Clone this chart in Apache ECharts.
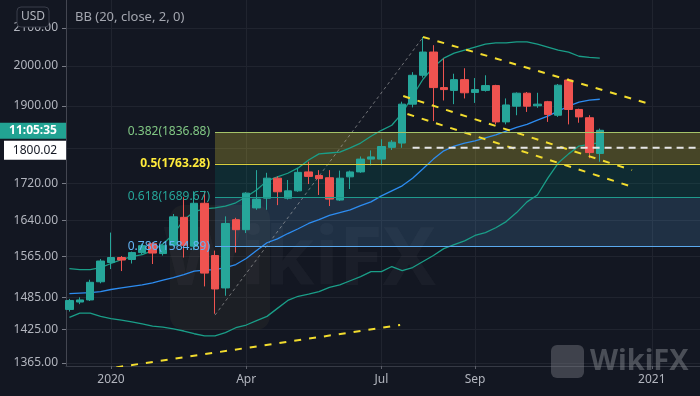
<!DOCTYPE html>
<html><head><meta charset="utf-8">
<script src="https://cdn.jsdelivr.net/npm/echarts@6/dist/echarts.min.js"></script>
<style>html,body{margin:0;padding:0;background:#131722;}#c{width:700px;height:396px;}</style>
</head><body><div id="c"></div><script>
// weekly bars (week start)
const weeks = ['2019-12-09','2019-12-16','2019-12-23','2019-12-30','2020-01-06','2020-01-13','2020-01-20','2020-01-27',
'2020-02-03','2020-02-10','2020-02-17','2020-02-24','2020-03-02','2020-03-09','2020-03-16','2020-03-23','2020-03-30',
'2020-04-06','2020-04-13','2020-04-20','2020-04-27','2020-05-04','2020-05-11','2020-05-18','2020-05-25',
'2020-06-01','2020-06-08','2020-06-15','2020-06-22','2020-06-29','2020-07-06','2020-07-13','2020-07-20','2020-07-27',
'2020-08-03','2020-08-10','2020-08-17','2020-08-24','2020-08-31','2020-09-07','2020-09-14','2020-09-21','2020-09-28',
'2020-10-05','2020-10-12','2020-10-19','2020-10-26','2020-11-02','2020-11-09','2020-11-16','2020-11-23','2020-11-30'];
const opens  = [1462,1476,1480,1515,1553,1563,1559,1573,1591,1571,1588,1646,1586,1676,1567,1503,1641,1620,1666,1687,1731,1687,1703,1745,1737,1732,1683,1734,1745,1774,1774,1801,1811,1904,1976,2036,1945,1938,1965,1933,1938,1950,1861,1899,1931,1900,1910,1877,1964,1891,1871,1787];
const closes = [1479,1480,1514,1556,1563,1558,1573,1587,1572,1588,1647,1588,1676,1532,1501,1633,1620,1698,1685,1731,1701,1703,1744,1735,1730,1685,1731,1745,1774,1779,1803,1813,1904,1976,2036,1945,1940,1965,1932,1940,1950,1861,1902,1931,1899,1904,1879,1951,1891,1873,1789,1841];
const lows   = [1458,1472,1478,1512,1540,1536,1551,1569,1550,1567,1585,1563,1578,1506,1454,1488,1573,1613,1662,1662,1672,1684,1701,1718,1694,1670,1681,1707,1743,1760,1760,1795,1800,1896,1970,1863,1913,1904,1918,1907,1935,1855,1855,1877,1885,1895,1861,1873,1855,1859,1776,1768];
const highs  = [1482,1485,1519,1560,1614,1566,1575,1591,1594,1590,1653,1689,1702,1703,1577,1648,1645,1700,1749,1743,1735,1727,1753,1768,1749,1749,1748,1748,1780,1794,1820,1818,1910,1984,2076,2054,2019,1980,1994,1969,1976,1952,1918,1933,1934,1932,1912,1954,1968,1893,1877,1845];
// Bollinger Bands (20, close, 2)
const bbUpper = [1541,1539,1539,1543,1551,1559,1565,1569,1577,1591,1610,1641,1658,1664,1666,1670,1677,1690,1705,1725,1734,1742,1754,1772,1786,1788,1790,1800,1811,1827,1841,1853,1882,1924,1966,1997,2020,2033,2041,2049,2057,2060,2060,2063,2063,2057,2049,2041,2036,2025,2022,2020];
const bbBasis = [1492,1493,1494,1496,1500,1503,1506,1509,1513,1518,1523,1529,1536,1538,1539,1543,1549,1561,1577,1593,1601,1612,1622,1633,1641,1650,1656,1662,1671,1679,1692,1703,1714,1731,1752,1774,1793,1804,1811,1816,1823,1830,1839,1848,1855,1865,1875,1887,1899,1909,1914,1916];
const bbLower = [1447,1455,1455,1449,1445,1442,1439,1435,1431,1429,1426,1422,1417,1413,1413,1419,1428,1433,1441,1449,1464,1479,1487,1491,1496,1504,1509,1517,1525,1535,1535,1545,1537,1543,1555,1567,1581,1589,1597,1608,1614,1624,1637,1656,1679,1694,1731,1765,1786,1804,1808,1812];
// axes
const xTickIndex  = [4,17,30,39,56];
const xTickLabels = ['2020','Apr','Jul','Sep','2021'];
const yTickValues  = [1365,1425,1485,1565,1640,1720,1800,1900,2000,2100];
const yLabelValues = [1365,1425,1485,1565,1640,1720,1900,2000,2100];
// Fibonacci retracement
const fibLevels = [0.382,0.5,0.618,0.786];
const fibPrices = [1836.88,1763.28,1689.67,1584.89];
const fibLow  = [14,1451.42];
const fibHigh = [34,2075.14];
// drawings
const trendTop   = [[34,2076],[56,1903]];
const trendMid   = [[32.1,1924],[54.1,1749]];
const trendLow   = [[32.5,1880],[54.1,1712]];
const trendRise  = [[4.5,1357],[31.8,1433]];
const lastPrice = 1800.02;
const lastPriceFrom = 33;
const clockText = '11:05:35';

const xMin = -0.327, xMax = 60.635;
const FONT = '"Noto Sans", sans-serif';
const chart = echarts.init(document.getElementById('c'));
const candleData = opens.map((o,i)=>[i,o,closes[i],lows[i],highs[i]]);
const toXY = arr => arr.map((v,i)=>[i,v]);
const fibLabelColors = ['#81c784','#ffeb3b','#26a69a','#64b5f6'];
const fibLineColors  = ['#a5c46a','#d8cc3c','#1f9a8c','#5aa9ee'];
const fibFills = [null,'rgba(255,235,59,0.22)','rgba(0,150,136,0.16)','rgba(100,181,246,0.16)'];

const markLineData = fibLevels.map((lv,k)=>[
  {coord:[fibLow[0],fibPrices[k]], lineStyle:{color:fibLineColors[k],width:1.2,type:'solid'},
   label:{show:true,position:'start',distance:5,formatter:lv+'('+fibPrices[k].toFixed(2)+')',
          color:fibLabelColors[k],fontSize:12,fontFamily:FONT,fontWeight:k===1?'bold':'normal'}},
  {coord:[xMax,fibPrices[k]]}
]);
const markAreaData = [1,2,3].map(k=>[
  {coord:[fibLow[0],fibPrices[k-1]], itemStyle:{color:fibFills[k]}},
  {coord:[xMax,fibPrices[k]]}
]);
const dashYellow = {color:'#f2dc2e',width:2,type:[7,8]};
const seg = (d,style,name)=>({type:'line',name,data:d,symbol:'none',lineStyle:style,z:4,silent:true,clip:true});

chart.setOption({
  animation:false,
  backgroundColor:'#131722',
  textStyle:{fontFamily:FONT},
  grid:{left:66,right:0,top:0,bottom:30},
  xAxis:{type:'value',min:xMin,max:xMax,
    axisLine:{show:true,onZero:false,lineStyle:{color:'#363a45'}},
    axisTick:{show:true,customValues:xTickIndex,length:3,lineStyle:{color:'#5d606b'}},
    axisLabel:{customValues:xTickIndex,formatter:v=>xTickLabels[xTickIndex.indexOf(Math.round(v))],color:'#b2b5be',fontSize:12,margin:8,fontFamily:FONT},
    splitLine:{show:true,lineStyle:{color:'#20242f'}}},
  yAxis:{type:'log',logBase:10,min:1359.4,max:2177,position:'left',
    axisLine:{show:true,onZero:false,lineStyle:{color:'#434651'}},
    axisTick:{show:true,customValues:yTickValues,length:4,lineStyle:{color:'#787b86'}},
    axisLabel:{customValues:yLabelValues,formatter:v=>Number(v).toFixed(2),color:'#b2b5be',fontSize:12,margin:8,fontFamily:FONT},
    splitLine:{show:true,lineStyle:{color:'#20242f'}}},
  series:[
    {type:'line',name:'fib',data:[fibLow,fibHigh],symbol:'none',z:1,silent:true,
     lineStyle:{color:'rgba(190,190,190,0.55)',width:1,type:[3,3]},
     markArea:{silent:true,data:markAreaData},
     markLine:{silent:true,symbol:'none',data:markLineData}},
    {type:'line',name:'upper',data:toXY(bbUpper),symbol:'none',z:2,lineStyle:{color:'#1a9e88',width:1.3}},
    {type:'line',name:'basis',data:toXY(bbBasis),symbol:'none',z:2,lineStyle:{color:'#2d8cf0',width:1.3}},
    {type:'line',name:'lower',data:toXY(bbLower),symbol:'none',z:2,lineStyle:{color:'#1a9e88',width:1.3}},
    {type:'candlestick',name:'XAUUSD',data:candleData,barWidth:8,z:3,
     itemStyle:{color:'#26a69a',color0:'#ef5350',borderColor:'#26a69a',borderColor0:'#ef5350',borderWidth:1}},
    seg(trendTop,dashYellow,'t1'),
    seg(trendMid,dashYellow,'t2'),
    seg(trendLow,dashYellow,'t3'),
    seg(trendRise,dashYellow,'t4'),
    seg([[lastPriceFrom,lastPrice],[xMax,lastPrice]],{color:'#e6e6e6',width:2,type:[7,5]},'price')
  ]
});

const py = chart.convertToPixel({yAxisIndex:0}, lastPrice);
chart.setOption({graphic:[
  {type:'text',z:0,x:300,y:262,style:{text:'WikiFX',fill:'rgba(150,150,150,0.06)',font:'bold 80px '+FONT,align:'center',verticalAlign:'middle'}},
  {type:'rect',z:0,shape:{x:170,y:205,width:100,height:125,r:14},style:{fill:'rgba(150,140,90,0.07)'}},
  {type:'rect',z:100,shape:{x:17,y:7,width:32,height:20,r:4},style:{fill:'#131722',stroke:'#3a3e4a',lineWidth:1}},
  {type:'text',z:101,x:33,y:17,style:{text:'USD',fill:'#b2b5be',font:'12px '+FONT,align:'center',verticalAlign:'middle'}},
  {type:'text',z:101,x:75,y:17,style:{text:'BB (20, close, 2, 0)',fill:'#a3a6af',font:'13px '+FONT,verticalAlign:'middle'}},
  {type:'rect',z:100,shape:{x:0,y:py-25,width:66,height:16},style:{fill:'#22a393'}},
  {type:'text',z:101,x:33,y:py-17,style:{text:clockText,fill:'#ffffff',font:'bold 12px '+FONT,align:'center',verticalAlign:'middle'}},
  {type:'rect',z:100,shape:{x:4,y:py-7,width:62,height:19},style:{fill:'#ffffff'}},
  {type:'text',z:101,x:35,y:py+2.5,style:{text:lastPrice.toFixed(2),fill:'#131722',font:'12px '+FONT,align:'center',verticalAlign:'middle'}},
  {type:'rect',z:90,shape:{x:551,y:345,width:33,height:33,r:6},style:{fill:'rgba(130,133,140,0.4)'}},
  {type:'text',z:90,x:590,y:362,style:{text:'WikiFX',fill:'rgba(130,133,140,0.5)',font:'bold 29px '+FONT,verticalAlign:'middle'}}
]});
</script></body></html>
